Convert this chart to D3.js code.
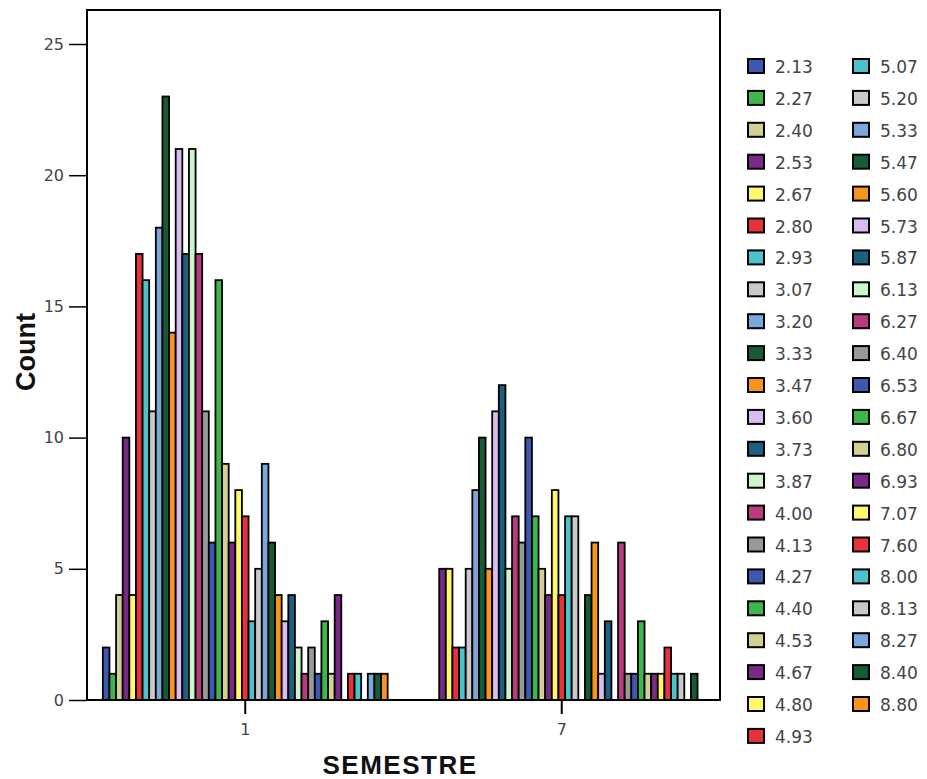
<!DOCTYPE html>
<html>
<head>
<meta charset="utf-8">
<script src="https://cdn.jsdelivr.net/npm/d3@7"></script>
<style>
  body { margin: 0; background: #fff; }
  svg { display: block; }
  text { font-family: "Liberation Sans", Arial, sans-serif; }
</style>
</head>
<body>
<svg id="chart" width="927" height="779"></svg>
<script>
const semesters = ["1", "7"];
const categories = ["2.13","2.27","2.40","2.53","2.67","2.80","2.93","3.07","3.20","3.33","3.47","3.60","3.73","3.87","4.00","4.13","4.27","4.40","4.53","4.67","4.80","4.93","5.07","5.20","5.33","5.47","5.60","5.73","5.87","6.13","6.27","6.40","6.53","6.67","6.80","6.93","7.07","7.60","8.00","8.13","8.27","8.40","8.80"];
const countsSem1 = [2,1,4,10,4,17,16,11,18,23,14,21,17,21,17,11,6,16,9,6,8,7,3,5,9,6,4,3,4,2,1,2,1,3,1,4,0,1,1,0,1,1,1];
const countsSem7 = [0,0,0,5,5,2,2,5,8,10,5,11,12,5,7,6,10,7,5,4,8,4,7,7,0,4,6,1,3,0,6,1,1,3,1,1,1,2,1,1,0,1,0];
const yTicks = [0,5,10,15,20,25];
const palette = ["#3E58B0","#3CB84A","#D4CF94","#782A86","#FFF86C","#E8323A","#4CC2CC","#C9C9C9","#7BA8DA","#155C34","#F7941E","#DABBF2","#1C6080","#CCF6CC","#BA3B7D","#999999"];

(function () {
const svg = d3.select("#chart");
const pLeft = 87, pRight = 720, pTop = 10, pBottom = 700;

const x0 = d3.scaleBand().domain(semesters).range([pLeft, pRight]).padding(0);
const x1 = d3.scaleBand().domain(categories)
  .range([-x0.bandwidth()*0.45, x0.bandwidth()*0.45]).padding(0);
const y = d3.scaleLinear().domain([0, 25]).range([pBottom, 44]);
const color = d3.scaleOrdinal().domain(categories)
  .range(categories.map((c,i) => palette[i % palette.length]));

const data = [];
semesters.forEach((s, si) => {
  const vals = si === 0 ? countsSem1 : countsSem7;
  categories.forEach((c, ci) => { if (vals[ci] > 0) data.push({s, c, v: vals[ci]}); });
});

// bars
svg.append("g").selectAll("rect").data(data).join("rect")
  .attr("x", d => x0(d.s) + x0.bandwidth()/2 + x1(d.c))
  .attr("y", d => y(d.v))
  .attr("width", x1.bandwidth())
  .attr("height", d => y(0) - y(d.v))
  .attr("fill", d => color(d.c))
  .attr("stroke", "#000")
  .attr("stroke-width", 1.8);

// frame
svg.append("rect").attr("x", pLeft).attr("y", pTop)
  .attr("width", pRight-pLeft).attr("height", pBottom-pTop)
  .attr("fill", "none").attr("stroke", "#000").attr("stroke-width", 2);

const tickFont = "'DejaVu Sans', 'Liberation Sans', Arial, sans-serif";

// y axis
const yAxis = d3.axisLeft(y).tickValues(yTicks).tickSize(18).tickPadding(5);
const yg = svg.append("g").attr("transform", `translate(${pLeft},0)`).call(yAxis);
yg.select(".domain").remove();
yg.selectAll("line").attr("stroke", "#000").attr("stroke-width", 1.5);
yg.selectAll("text").attr("font-size", 16).attr("fill", "#444")
  .style("font-family", tickFont);

// x axis
const xAxis = d3.axisBottom(x0).tickSize(14).tickPadding(10);
const xg = svg.append("g").attr("transform", `translate(0,${pBottom})`).call(xAxis);
xg.select(".domain").remove();
xg.selectAll("line").attr("stroke", "#000").attr("stroke-width", 2);
xg.selectAll("text").attr("font-size", 16).attr("fill", "#444")
  .style("font-family", tickFont);

// axis titles
svg.append("text").attr("x", 400).attr("y", 774).attr("text-anchor", "middle")
  .attr("font-size", 26).attr("font-weight", "bold").attr("letter-spacing", 1.5)
  .attr("fill", "#111").text("SEMESTRE");
svg.append("text").attr("transform", "translate(35,352) rotate(-90)")
  .attr("text-anchor", "middle").attr("font-size", 27).attr("font-weight", "bold")
  .attr("fill", "#111").text("Count");

// legend
const perCol = 22, rowH = 31.9;
const lg = svg.append("g");
const items = lg.selectAll("g").data(categories).join("g")
  .attr("transform", (d,i) => `translate(${i < perCol ? 748 : 853},${59 + (i % perCol) * rowH})`);
items.append("rect").attr("width", 16).attr("height", 14)
  .attr("fill", d => color(d)).attr("stroke", "#000").attr("stroke-width", 2);
items.append("text").attr("x", 27).attr("y", 14).attr("font-size", 17).attr("fill", "#444")
  .style("font-family", tickFont)
  .text(d => d);
})();
</script>
</body>
</html>
